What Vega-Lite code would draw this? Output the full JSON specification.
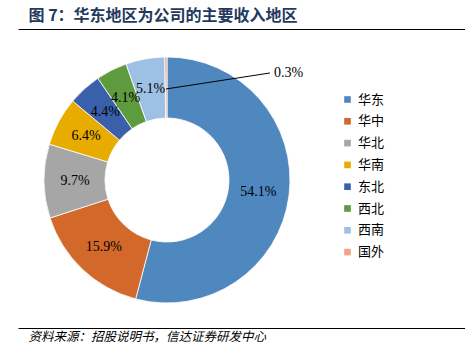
{
  "$schema": "https://vega.github.io/schema/vega-lite/v6.json",
  "width": 447,
  "height": 299,
  "autosize": {"type": "none"},
  "padding": {"left": 18, "top": 29, "right": 0, "bottom": 27},
  "background": "white",
  "datasets": {
    "regions": [
      {"region": "华东", "share": 0.541, "rank": 1},
      {"region": "华中", "share": 0.159, "rank": 2},
      {"region": "华北", "share": 0.097, "rank": 3},
      {"region": "华南", "share": 0.064, "rank": 4},
      {"region": "东北", "share": 0.044, "rank": 5},
      {"region": "西北", "share": 0.041, "rank": 6},
      {"region": "西南", "share": 0.051, "rank": 7},
      {"region": "国外", "share": 0.003, "rank": 8}
    ],
    "leader": [
      {"x": -0.008, "y": 0.74},
      {"x": 0.837, "y": 0.87}
    ],
    "callout": [
      {"x": 0.87, "y": 0.87, "label": "0.3%"}
    ]
  },
  "config": {
    "view": {"stroke": null},
    "axis": {"grid": false, "ticks": false, "labels": false, "domainColor": "#000000", "domainWidth": 1}
  },
  "layer": [
    {
      "data": {"name": "regions"},
      "mark": {"type": "arc", "outerRadius": 123, "innerRadius": 62, "stroke": "white", "strokeWidth": 0.8},
      "encoding": {
        "x": {
          "datum": 0, "type": "quantitative",
          "scale": {"domain": [-1.2114, 2.4228], "nice": false, "zero": false},
          "axis": {
            "orient": "top",
            "title": "图 7：华东地区为公司的主要收入地区",
            "titleFont": "Noto Sans CJK SC",
            "titleFontSize": 16,
            "titleFontWeight": "bold",
            "titleColor": "#23395D",
            "titleAnchor": "start",
            "titleAlign": "left",
            "titleX": 10,
            "titlePadding": 6
          }
        },
        "y": {
          "datum": 0, "type": "quantitative",
          "scale": {"domain": [-1.2033, 1.2276], "nice": false, "zero": false},
          "axis": null
        },
        "theta": {"field": "share", "type": "quantitative", "stack": true},
        "order": {"field": "rank", "type": "quantitative"},
        "color": {
          "field": "region", "type": "nominal",
          "scale": {
            "domain": ["华东", "华中", "华北", "华南", "东北", "西北", "西南", "国外"],
            "range": ["#4F87BF", "#D2692B", "#A6A6A6", "#E8AC00", "#3A60AC", "#5E9A3E", "#9DC0E5", "#F2A48A"]
          },
          "legend": {
            "orient": "none",
            "legendX": 323,
            "legendY": 64,
            "title": null,
            "padding": 0,
            "symbolType": "square",
            "symbolSize": 44,
            "symbolStrokeWidth": 0,
            "labelFont": "Noto Sans CJK SC",
            "labelFontSize": 13,
            "labelColor": "#000000",
            "labelOffset": 4,
            "rowPadding": 7.8
          }
        }
      }
    },
    {
      "data": {"name": "regions"},
      "transform": [{"filter": "datum.region !== '国外'"}],
      "mark": {"type": "text", "radius": 92, "font": "Liberation Serif", "fontSize": 14, "color": "#000000"},
      "encoding": {
        "x": {"datum": 0, "type": "quantitative", "axis": null},
        "y": {"datum": 0, "type": "quantitative", "axis": null},
        "theta": {"field": "share", "type": "quantitative", "stack": true},
        "order": {"field": "rank", "type": "quantitative"},
        "text": {"field": "share", "type": "quantitative", "format": ".1%"}
      }
    },
    {
      "data": {"name": "leader"},
      "mark": {"type": "line", "color": "#000000", "strokeWidth": 1},
      "encoding": {
        "x": {
          "field": "x", "type": "quantitative",
          "axis": {
            "orient": "bottom",
            "title": "资料来源：招股说明书，信达证券研发中心",
            "titleFont": "Noto Sans CJK SC",
            "titleFontSize": 12.5,
            "titleFontWeight": "normal",
            "titleFontStyle": "italic",
            "titleColor": "#000000",
            "titleAnchor": "start",
            "titleAlign": "left",
            "titleX": 10,
            "titlePadding": 2
          }
        },
        "y": {"field": "y", "type": "quantitative", "axis": null}
      }
    },
    {
      "data": {"name": "callout"},
      "mark": {"type": "text", "align": "left", "baseline": "middle", "font": "Liberation Serif", "fontSize": 14, "color": "#000000"},
      "encoding": {
        "x": {"field": "x", "type": "quantitative", "axis": null},
        "y": {"field": "y", "type": "quantitative", "axis": null},
        "text": {"field": "label", "type": "nominal"}
      }
    }
  ],
  "resolve": {"axis": {"x": "independent"}}
}
